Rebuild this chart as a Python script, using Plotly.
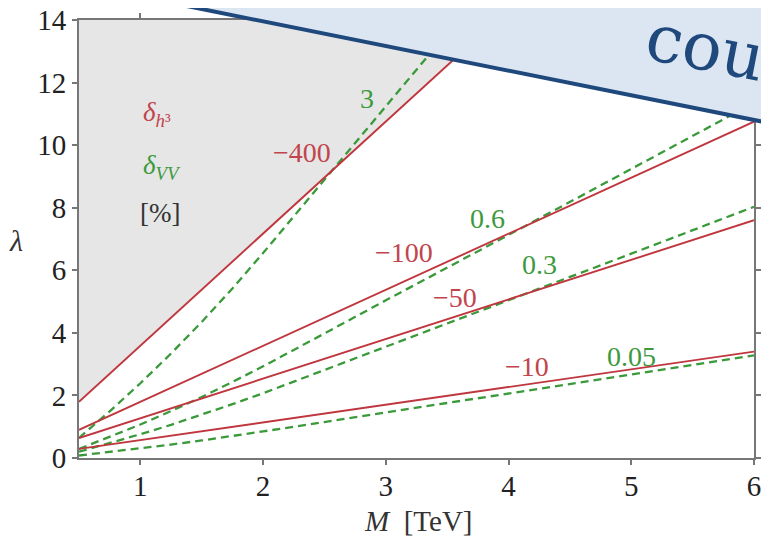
import plotly.graph_objects as go

# ---------------- data ----------------
M_red = [0.5, 6.0]
red_400 = [1.8, 21.5]
red_100 = [0.9, 10.75]
red_50 = [0.64, 7.6]
red_10 = [0.29, 3.4]

M_green = [0.5, 0.75, 1.0, 1.25, 1.5, 1.75, 2.0, 2.5, 3.0, 4.0, 5.0, 6.0]
green_3 = [0.64, 1.49, 2.39, 3.34, 4.35, 5.42, 6.55, 8.89, 11.26, 15.93, 20.65, 25.37]
green_06 = [0.29, 0.67, 1.07, 1.50, 1.95, 2.43, 2.93, 3.98, 5.04, 7.13, 9.24, 11.35]
green_03 = [0.20, 0.47, 0.76, 1.06, 1.38, 1.72, 2.07, 2.81, 3.56, 5.04, 6.53, 8.03]
green_005 = [0.08, 0.19, 0.31, 0.43, 0.56, 0.70, 0.85, 1.15, 1.45, 2.06, 2.67, 3.28]

x_ticks = [1, 2, 3, 4, 5, 6]
y_ticks = [0, 2, 4, 6, 8, 10, 12, 14]

red_labels = ["−400", "−100", "−50", "−10"]
red_label_x = [2.32, 3.15, 3.56, 4.15]
red_label_y = [9.78, 6.58, 5.14, 2.91]
green_labels = ["3", "0.6", "0.3", "0.05"]
green_label_x = [2.85, 3.83, 4.25, 5.0]
green_label_y = [11.5, 7.67, 6.17, 3.23]

X_RANGE = [0.5, 6]
Y_RANGE = [0, 14]

RED = "#c0363e"
RED_TXT = "#c2454d"
GREEN = "#3a9a3a"
GREEN_TXT = "#3d9a3d"
FONT = "Liberation Serif"

W, H = 769, 541
# plot area in page pixels
PL, PR, PT, PB = 79, 754, 20, 458
BODY = 8  # default page margin around the figure div

fig = go.Figure()

# shaded region above the -400 line
fig.add_trace(go.Scatter(
    x=M_red + [M_red[-1], M_red[0]],
    y=red_400 + [Y_RANGE[1], Y_RANGE[1]],
    fill="toself", fillcolor="#e6e6e6", line=dict(width=0),
    mode="lines", hoverinfo="skip", showlegend=False))

for ys in [green_3, green_06, green_03, green_005]:
    fig.add_trace(go.Scatter(x=M_green, y=ys, mode="lines",
                             line=dict(color=GREEN, width=2.3, dash="8px,5px"),
                             showlegend=False))
for ys in [red_400, red_100, red_50, red_10]:
    fig.add_trace(go.Scatter(x=M_red, y=ys, mode="lines",
                             line=dict(color=RED, width=1.9),
                             showlegend=False))

ann = []
for t, x, y in zip(red_labels, red_label_x, red_label_y):
    ann.append(dict(x=x, y=y, text=t, showarrow=False, xanchor="center", yanchor="middle",
                    font=dict(family=FONT, size=28, color=RED_TXT)))
for t, x, y in zip(green_labels, green_label_x, green_label_y):
    ann.append(dict(x=x, y=y, text=t, showarrow=False, xanchor="center", yanchor="middle",
                    font=dict(family=FONT, size=28, color=GREEN_TXT)))

ann.append(dict(x=1.135, y=11.0, text="<i>δ</i><sub><i>h</i>³</sub>", showarrow=False,
                xanchor="center", yanchor="middle",
                font=dict(family=FONT, size=27, color=RED_TXT)))
ann.append(dict(x=1.18, y=9.3, text="<i>δ</i><sub><i>VV</i></sub>", showarrow=False,
                xanchor="center", yanchor="middle",
                font=dict(family=FONT, size=27, color=GREEN_TXT)))
ann.append(dict(x=1.16, y=7.83, text="[%]", showarrow=False,
                xanchor="center", yanchor="middle",
                font=dict(family=FONT, size=27, color="#333333")))


def px2paper(px, py):
    return (px - PL) / (PR - PL), (PB - py) / (PB - PT)


# axis titles
ax, ay = px2paper(16, 240)
ann.append(dict(xref="paper", yref="paper", x=ax, y=ay, text="<i>λ</i>",
                xanchor="center", yanchor="middle",
                showarrow=False, font=dict(family=FONT, size=30, color="#333333")))
ax, ay = px2paper(419, 521)
ann.append(dict(xref="paper", yref="paper", x=ax, y=ay, text="<i>M</i>  [TeV]",
                xanchor="center", yanchor="middle",
                showarrow=False, font=dict(family=FONT, size=29, color="#333333")))

# overlay banner in the top-right corner
p1 = px2paper(120, -7.4)
p2 = px2paper(800, 129.2)
p3 = px2paper(800, -30)
p4 = px2paper(120, -30)
path = "M {} {} L {} {} L {} {} L {} {} Z".format(p1[0], p1[1], p2[0], p2[1],
                                                  p3[0], p3[1], p4[0], p4[1])
shapes = [dict(type="path", xref="paper", yref="paper", path=path,
               fillcolor="#dce6f2", line=dict(color="#1f497d", width=4), layer="above")]
cx, cy = px2paper(705, 47)
ann.append(dict(xref="paper", yref="paper", x=cx, y=cy, text="cou", textangle=11,
                showarrow=False, xanchor="center", yanchor="middle",
                font=dict(family="DejaVu Serif", size=66, color="#1f497d")))

axis_common = dict(showgrid=False, zeroline=False, showline=True, linecolor="#777777",
                   linewidth=2, mirror="ticks", ticks="outside", ticklen=5,
                   tickwidth=1.5, tickcolor="#777777", automargin=False,
                   ticklabeloverflow="allow",
                   tickfont=dict(family=FONT, size=29, color="#222222"))

fig.update_layout(
    width=W, height=H,
    margin=dict(l=PL - BODY, r=W - (PR - BODY), t=PT - BODY, b=H - (PB - BODY)),
    paper_bgcolor="white", plot_bgcolor="white",
    xaxis=dict(range=X_RANGE, tickvals=x_ticks, ticklabelstandoff=-4, **axis_common),
    yaxis=dict(range=Y_RANGE, tickvals=y_ticks, **axis_common),
    annotations=ann, shapes=shapes, showlegend=False)

fig.write_html("out.html")
